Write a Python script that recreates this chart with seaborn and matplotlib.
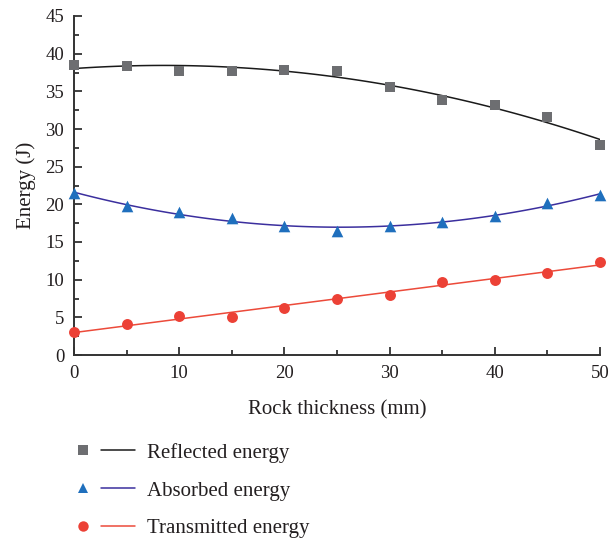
import numpy as np
import pandas as pd
import matplotlib
matplotlib.use("Agg")
import matplotlib.pyplot as plt
from matplotlib.lines import Line2D
from matplotlib.legend_handler import HandlerBase
from matplotlib.ticker import MultipleLocator
import seaborn as sns

# Rock thickness (mm) and measured energies (J)
thickness = [0, 5, 10, 15, 20, 25, 30, 35, 40, 45, 50]
reflected = [38.5, 38.4, 37.7, 37.7, 37.85, 37.7, 35.6, 33.9, 33.2, 31.6, 27.9]
absorbed = [21.5, 19.8, 18.95, 18.15, 17.1, 16.5, 17.1, 17.6, 18.5, 20.2, 21.2]
transmitted = [3.1, 4.1, 5.2, 5.05, 6.3, 7.5, 8.0, 9.7, 9.9, 10.9, 12.4]

series_names = ["Reflected energy", "Absorbed energy", "Transmitted energy"]
fit_orders = [2, 2, 1]
marker_colors = ["#6d6e71", "#1f6fbd", "#ec4136"]
line_colors = ["#1a1a1a", "#3b2f9e", "#ec4a3a"]
markers = ["s", "^", "o"]
marker_sizes = [62, 70, 62]

df = pd.DataFrame({"thickness": thickness, "Reflected energy": reflected,
                   "Absorbed energy": absorbed, "Transmitted energy": transmitted})


class MarkerThenLine(HandlerBase):
    """Legend key: a lone marker on the left, a short fit line on the right."""

    def create_artists(self, legend, orig_handle, xdescent, ydescent,
                       width, height, fontsize, trans):
        mk_handle, ln_handle = orig_handle
        y = height / 2 - ydescent
        x0 = -xdescent
        marker = Line2D([x0 + 0.16 * width], [y], ls="none",
                        marker=mk_handle.get_marker(),
                        color=mk_handle.get_color(),
                        markersize=mk_handle.get_markersize(),
                        markeredgewidth=0)
        line = Line2D([x0 + 0.45 * width, x0 + width], [y, y],
                      color=ln_handle.get_color(), lw=ln_handle.get_linewidth())
        marker.set_transform(trans)
        line.set_transform(trans)
        return [marker, line]


sns.set_style("ticks")
plt.rcParams["font.family"] = ["Liberation Serif", "DejaVu Serif"]
plt.rcParams["text.color"] = "#231f20"
plt.rcParams["axes.labelcolor"] = "#231f20"

fig = plt.figure(figsize=(6.10, 5.42), dpi=100)
ax = fig.add_axes([74 / 610, 1 - 355 / 542, 526 / 610, 339 / 542])

handles = []
for name, order, mc, lc, mk, ms in zip(series_names, fit_orders, marker_colors,
                                       line_colors, markers, marker_sizes):
    sns.regplot(data=df, x="thickness", y=name, order=order, ci=None, ax=ax,
                marker=mk,
                scatter_kws=dict(s=ms, color=mc, linewidths=0, alpha=1,
                                 clip_on=False, zorder=3),
                line_kws=dict(color=lc, lw=1.1, zorder=2))
    h_marker = Line2D([], [], ls="none", marker=mk, color=mc, markersize=7.5)
    h_line = Line2D([], [], color=lc, lw=1.1)
    handles.append((h_marker, h_line))

ax.set_xlim(0, 50)
ax.set_ylim(0, 45)
ax.xaxis.set_major_locator(MultipleLocator(10))
ax.xaxis.set_minor_locator(MultipleLocator(5))
ax.yaxis.set_major_locator(MultipleLocator(5))
ax.yaxis.set_minor_locator(MultipleLocator(2.5))
ax.tick_params(which="both", direction="in", color="#333333", width=1.3,
               labelsize=13.5, labelcolor="#231f20")
ax.tick_params(which="major", length=6, pad=7)
ax.tick_params(which="minor", length=3.5)
for side in ["left", "bottom"]:
    ax.spines[side].set_linewidth(1.4)
    ax.spines[side].set_color("#333333")
sns.despine(ax=ax)

ax.set_xlabel("Rock thickness (mm)", fontsize=15, labelpad=13)
ax.set_ylabel("Energy (J)", fontsize=15, labelpad=7)

fig.legend(handles, series_names, handler_map={tuple: MarkerThenLine()},
           loc="upper left", bbox_to_anchor=(54 / 610, 1 - 424 / 542),
           frameon=False, fontsize=15, handlelength=3.0, handletextpad=0.55,
           labelspacing=0.88)

fig.savefig("out.png", dpi=100)
